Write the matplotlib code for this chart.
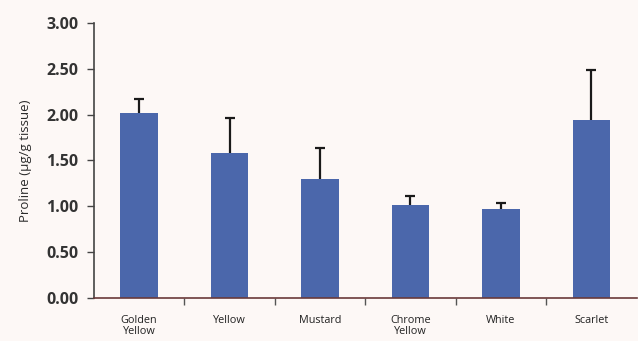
import matplotlib
matplotlib.use("Agg")
import matplotlib.pyplot as plt
import numpy as np

# Proline content by flower colour
categories = ["Golden\nYellow", "Yellow", "Mustard", "Chrome\nYellow", "White", "Scarlet"]
proline = [2.02, 1.58, 1.30, 1.01, 0.97, 1.94]
err_upper = [0.15, 0.38, 0.34, 0.10, 0.07, 0.55]
yticks = [0.00, 0.50, 1.00, 1.50, 2.00, 2.50, 3.00]

bg = "#fdf8f6"
bar_color = "#4b67ab"

fig = plt.figure(figsize=(6.38, 3.41), dpi=100, facecolor=bg)
ax = fig.add_axes([0.147, 0.126, 0.851, 0.807], facecolor=bg)

x = np.arange(len(categories))
ax.bar(x, proline, width=0.41, color=bar_color, zorder=2)
_, caps, _ = ax.errorbar(x, proline, yerr=[np.zeros(len(proline)), err_upper], fmt="none",
                         ecolor="#1a1a1a", elinewidth=1.6, capsize=3.5, capthick=1.6,
                         zorder=3)
# only the upper caps are shown
caps[0].set_visible(False)

ax.set_xlim(-0.5, len(categories) - 0.5)
ax.set_ylim(0, 3.0)
ax.set_yticks(yticks)
ax.set_yticklabels([f"{v:.2f}" for v in yticks], fontsize=11.5, fontweight="bold",
                   family="Open Sans", color="#333333")
ax.tick_params(axis="y", direction="out", length=5, width=1, color="#444444", pad=6)

ax.set_xticks(x)
ax.set_xticklabels(categories, fontsize=7.8, family="Open Sans", color="#222222",
                   linespacing=1.0)
ax.tick_params(axis="x", which="major", length=0, pad=12)
ax.set_xticks(np.arange(0.5, len(categories) - 0.5, 1.0), minor=True)
ax.tick_params(axis="x", which="minor", direction="out", length=5, width=1, color="#555555")

ax.set_ylabel("Proline (\u00b5g/g tissue)", fontsize=9.5, family="Open Sans",
              color="#2a2a2a", labelpad=10)

for side in ["top", "right"]:
    ax.spines[side].set_visible(False)
ax.spines["left"].set_color("#444444")
ax.spines["left"].set_linewidth(1.2)
ax.spines["bottom"].set_color("#6a3a3a")
ax.spines["bottom"].set_linewidth(1.2)

fig.savefig("out.png", dpi=100, facecolor=bg)
